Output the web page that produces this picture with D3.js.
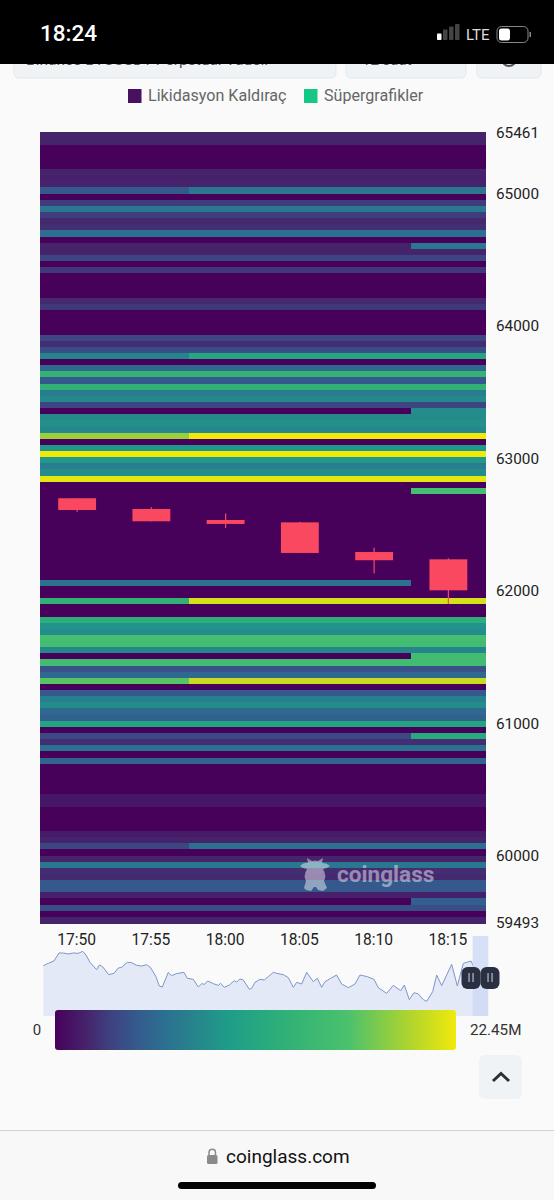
<!DOCTYPE html>
<html><head><meta charset="utf-8">
<script src="https://cdn.jsdelivr.net/npm/d3@7"></script>
<style>html,body{margin:0;padding:0;background:#fafafa}svg{display:block}text{font-family:Roboto,sans-serif}</style>
</head><body><svg id="c" width="554" height="1200"></svg>
<script>
const timeLabels=["17:50","17:55","18:00","18:05","18:10","18:15"];
const priceTicks=[65461,65000,64000,63000,62000,61000,60000,59493];
const priceTop=65461, priceBottom=59493, colorMaxLabel="22.45M";
// share of the colour-scale maximum per price row, top to bottom
const rowLevels=[.08,.08,0,0,0,0,.08,.07,.08,.2,0,.13,.3,.13,.09,.1,.27,0,.08,.08,.15,0,.12,0,0,0,0,.09,.12,0,0,0,0,.15,.1,.17,.35,0,.25,.6,.2,.58,.32,.36,.15,0,.37,.39,.36,.85,0,.42,1,.42,.32,.38,.98,0,0,0,0,0,0,0,0,0,0,0,0,0,0,0,0,.28,0,0,.58,0,0,.55,.4,.38,.7,.68,.35,0,.68,.18,.25,.75,0,.2,.33,.38,.25,.23,.48,0,.16,.1,.28,0,.24,0,0,0,0,0,.05,.05,0,0,0,0,.06,.08,.15,0,.08,.3,.1,.09,.2,.2,.07,0,.17,0,.08];
// [row, first time column, new level]
const rowChanges=[[9,2,.3],[18,5,.3],[36,2,.5],[45,5,.38],[49,2,1],[58,5,.7],[73,5,0],[76,2,.95],[85,5,.68],[89,2,.93],[98,5,.52],[116,2,.27],[125,5,.22]];
const candleOpen=[62699,62618,62535,62517,62293,62238];
const candleClose=[62610,62525,62505,62286,62231,62004];
const candleHigh=[62699,62631,62585,62521,62326,62246];
const candleLow=[62597,62525,62474,62286,62132,61901];
const colorStops=[0,.08,.14,.2,.27,.44,.57,.73,.89,1];
const colorRange=["#47015b","#46246c","#3e4280","#35598c","#2c6f90","#1f9e88","#2fb077","#4ac16d","#b3d52b","#f0e90c"];
const overviewT=[40,55,72,87,100,115,130,145,158,168,180,200,208,218,236,252,265,275,292,305,320,335,350,362,378,388,397,415,424,440,462,472,490,505,515,524,533,550,565,572,583,598,613,620,630,640,658,665,675,690,703,715,730,740,760,775,790,800,815,830,850,862,875,885,902,920,935,955,975,990,1012,1032,1045,1070,1090,1112,1123,1138,1152,1165,1180,1190,1208,1220,1235,1265,1282,1300,1323,1340];
const overviewV=[151,158,165,189,189,186,189,188,194,183,161,139,153,148,124,128,144,146,161,160,152,150,154,145,118,90,87,131,121,127,131,113,110,87,97,95,105,97,92,98,86,93,106,102,111,108,80,83,101,110,108,118,131,128,124,115,86,101,96,131,103,113,86,103,113,123,96,85,96,123,118,110,85,68,92,76,93,49,70,66,49,44,73,123,91,155,90,158,165,130];
const legendItems=["Likidasyon Kaldıraç","Süpergrafikler"];
const legendColors=["#46125f","#14c784"];

const svg=d3.select("#c");
const plot={l:40,r:485.5,t:132.3,b:923};
const x=d3.scaleBand().domain(d3.range(timeLabels.length)).range([plot.l,plot.r]);
const y=d3.scaleLinear().domain([priceBottom,priceTop]).range([plot.b,plot.t]);
const rowY=d3.scaleBand().domain(d3.range(rowLevels.length)).range([plot.t,plot.b]);
const color=d3.scaleLinear().domain(colorStops).range(colorRange);
const levelAt=(r,c)=>{let v=rowLevels[r];rowChanges.forEach(d=>{if(d[0]===r&&c>=d[1])v=d[2]});return v};

// page chrome beneath the status bar
const boxes=[[14,322],[346,120],[477,64]];
svg.selectAll(".box").data(boxes).join("rect").attr("x",d=>d[0]).attr("y",40).attr("width",d=>d[1]).attr("height",38).attr("rx",5).attr("fill","#f0f3f6").attr("stroke","#e4e7eb");
svg.append("text").attr("x",26).attr("y",65).attr("font-size",15.5).attr("fill","#555").text("Binance BTCUSDT Perpetual Vadeli");
svg.append("text").attr("x",362).attr("y",65).attr("font-size",15).attr("fill","#555").text("12 saat");
svg.append("circle").attr("cx",509).attr("cy",59).attr("r",7).attr("fill","none").attr("stroke","#555").attr("stroke-width",2);

// status bar
svg.append("rect").attr("width",554).attr("height",64).attr("fill","#000");
svg.append("text").attr("x",40).attr("y",41).attr("fill","#fff").attr("font-size",22.5).attr("font-weight",500).text("18:24");
[[437,.4,"#fff"],[443,.65,"#444"],[449,.85,"#444"],[455,1,"#444"]].forEach(d=>svg.append("rect").attr("x",d[0]).attr("y",40-16*d[1]).attr("width",4.5).attr("height",16*d[1]).attr("rx",.8).attr("fill",d[2]));
svg.append("text").attr("x",466).attr("y",40).attr("fill","#ddd").attr("font-size",15).text("LTE");
svg.append("rect").attr("x",497).attr("y",26.5).attr("width",31).attr("height",16).attr("rx",4.5).attr("fill","none").attr("stroke","#888");
svg.append("rect").attr("x",499).attr("y",28.5).attr("width",11).attr("height",12).attr("rx",2.5).attr("fill","#fff");
svg.append("rect").attr("x",529.5).attr("y",32).attr("width",1.5).attr("height",5).attr("fill","#888");

// legend
const legX=[128,304],txtX=[148,324];
svg.selectAll(".ls").data(legendItems).join("rect").attr("x",(d,i)=>legX[i]).attr("y",89).attr("width",13.5).attr("height",14).attr("fill",(d,i)=>legendColors[i]);
svg.selectAll(".lt").data(legendItems).join("text").attr("x",(d,i)=>txtX[i]).attr("y",101).attr("font-size",16.1).attr("fill","#666").text(d=>d);

// heatmap
const cells=[];rowLevels.forEach((_,r)=>timeLabels.forEach((_,c)=>cells.push({r,c,v:levelAt(r,c)})));
svg.append("g").attr("shape-rendering","crispEdges").selectAll("rect").data(cells).join("rect")
 .attr("x",d=>x(d.c)).attr("y",d=>rowY(d.r)).attr("width",x.bandwidth()+.5).attr("height",rowY.bandwidth()+.5).attr("fill",d=>color(d.v));

// candles
const cw=x.bandwidth()*.51, cg=svg.append("g").attr("fill","#f9485f").attr("stroke","none");
timeLabels.forEach((_,i)=>{
 const cx=x(i)+x.bandwidth()/2;
 cg.append("rect").attr("x",cx-.6).attr("width",1.2).attr("y",y(candleHigh[i])).attr("height",y(candleLow[i])-y(candleHigh[i]));
 cg.append("rect").attr("x",cx-cw/2).attr("width",cw).attr("y",y(candleOpen[i])).attr("height",y(candleClose[i])-y(candleOpen[i]));
});

// watermark
const wm=svg.append("g").attr("fill","#fff").attr("opacity",.45);
wm.append("path").attr("d","M300 866 Q304 862 308 863 L307 858 L312 861 Q315 860 318 861 L323 858 L322 863 Q327 863 330 866 Q326 869 323 869 Q327 876 324 881 L327 888 L323 891 L318 890 L316 887 L314 887 L311 891 L306 890 L304 888 L306 881 Q303 876 307 869 Q303 869 300 866Z");
wm.append("text").attr("x",337).attr("y",882).attr("font-size",22.6).attr("font-weight",700).text("coinglass");

// axes
const yAxis=d3.axisRight(y).tickValues(priceTicks).tickSize(0).tickPadding(0).tickFormat(d3.format("d"));
const ya=svg.append("g").attr("transform","translate(496,0)").call(yAxis);
ya.select(".domain").remove();
ya.selectAll("text").attr("font-family","Roboto").attr("font-size",15.3).attr("fill","#222");
const xAxis=d3.axisBottom(x).tickSize(0).tickPadding(0).tickFormat(i=>timeLabels[i]);
const xa=svg.append("g").attr("transform","translate(-0.5,934)").call(xAxis);
xa.select(".domain").remove();
xa.selectAll("text").attr("font-family","Roboto").attr("font-size",15.6).attr("fill","#222");

// overview
const ox=d3.scaleLinear().domain([40,1374]).range([43.3,488]);
const oy=d3.scaleLinear().domain([0,273]).range([1016,925]);
const pts=overviewT.map((t,i)=>[t,overviewV[i]]);
svg.append("path").attr("d",d3.area().x(d=>ox(d[0])).y0(1016).y1(d=>oy(d[1]))(pts.concat([[1374,130]]))).attr("fill","#e3e9f6");
svg.append("path").attr("d",d3.line().x(d=>ox(d[0])).y(d=>oy(d[1]))(pts)).attr("fill","none").attr("stroke","#7d97c9").attr("stroke-width",1);
svg.append("rect").attr("x",472.7).attr("y",936).attr("width",15.6).attr("height",80).attr("fill","#cfdaf5").attr("opacity",.85);
[471,490].forEach(c=>{
 svg.append("rect").attr("x",c-9.5).attr("y",967).attr("width",19).attr("height",22).attr("rx",6).attr("fill","#2b2f42");
 [-2,2].forEach(o=>svg.append("rect").attr("x",c+o-.7).attr("y",973).attr("width",1.5).attr("height",9).attr("fill","#9aa0ad"));
});

// colour bar
const defs=svg.append("defs");
const grad=defs.append("linearGradient").attr("id","vg");
colorStops.forEach((s,i)=>grad.append("stop").attr("offset",s).attr("stop-color",colorRange[i]));
svg.append("rect").attr("x",55).attr("y",1010).attr("width",401).attr("height",40).attr("rx",3).attr("fill","url(#vg)");
svg.append("text").attr("x",37).attr("y",1035).attr("text-anchor","middle").attr("font-size",15).attr("fill","#333").text("0");
svg.append("text").attr("x",470).attr("y",1035).attr("font-size",15.2).attr("fill","#333").text(colorMaxLabel);

// scroll button
svg.append("rect").attr("x",479).attr("y",1055).attr("width",43).attr("height",44).attr("rx",6).attr("fill","#f0f3f6");
svg.append("path").attr("d","M493 1081 L501 1073.5 L509 1081").attr("fill","none").attr("stroke","#2b2f36").attr("stroke-width",3);

// browser bar
svg.append("rect").attr("y",1130).attr("width",554).attr("height",70).attr("fill","#f8f8f8");
svg.append("rect").attr("y",1130).attr("width",554).attr("height",1).attr("fill","#d0d0d0");
svg.append("rect").attr("x",207).attr("y",1155).attr("width",10.5).attr("height",9).attr("rx",1.5).attr("fill","#8a8a8a");
svg.append("path").attr("d","M209 1155 V1152.5 A3.2 3.2 0 0 1 215.5 1152.5 V1155").attr("fill","none").attr("stroke","#8a8a8a").attr("stroke-width",1.5);
svg.append("text").attr("x",226).attr("y",1163).attr("font-size",19).attr("fill","#111").text("coinglass.com");
svg.append("rect").attr("x",178).attr("y",1182).attr("width",198).attr("height",7).attr("rx",3.5).attr("fill","#000");
</script></body></html>
